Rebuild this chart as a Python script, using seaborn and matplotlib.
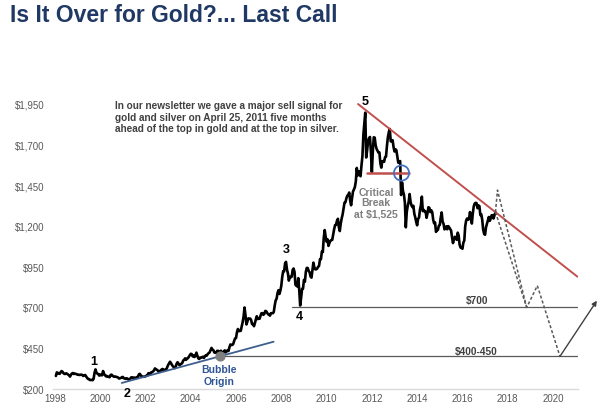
import numpy as np
import pandas as pd
import matplotlib
matplotlib.use("Agg")
import matplotlib.pyplot as plt
import seaborn as sns

# ---------------------------------------------------------------------------
# Data: gold price, USD/oz, two readings per month (mid-month, month-end)
# ---------------------------------------------------------------------------
gold_1998 = [280, 302, 296, 298, 293, 301, 310, 306, 297, 293, 292, 296, 293, 288, 284, 276, 288, 295, 298, 292, 294, 293, 291, 287]
gold_1999 = [288, 286, 287, 288, 286, 280, 283, 286, 277, 269, 262, 261, 255, 255, 256, 254, 263, 300, 320, 300, 294, 291, 282, 289]
gold_2000 = [285, 284, 310, 293, 286, 278, 280, 275, 275, 272, 286, 288, 282, 277, 275, 277, 274, 273, 270, 264, 266, 268, 272, 274]
gold_2001 = [266, 264, 262, 266, 263, 257, 261, 264, 272, 268, 270, 270, 268, 266, 273, 273, 290, 293, 283, 278, 276, 275, 276, 278]
gold_2002 = [282, 282, 296, 297, 294, 302, 303, 308, 314, 326, 322, 318, 314, 305, 310, 312, 319, 323, 317, 317, 319, 319, 333, 347]
gold_2003 = [357, 367, 359, 348, 340, 334, 328, 336, 355, 364, 356, 346, 351, 354, 360, 375, 379, 388, 379, 386, 389, 398, 407, 416]
gold_2004 = [414, 400, 405, 396, 406, 423, 404, 388, 384, 393, 392, 395, 398, 391, 400, 407, 405, 415, 420, 425, 439, 452, 442, 438]
gold_2005 = [424, 422, 423, 434, 434, 428, 429, 435, 422, 417, 430, 437, 424, 430, 438, 433, 456, 473, 470, 470, 476, 495, 510, 513]
gold_2006 = [549, 568, 555, 556, 557, 582, 610, 644, 700, 653, 596, 613, 633, 632, 632, 623, 598, 599, 585, 604, 627, 646, 629, 632]
gold_2007 = [631, 650, 665, 665, 655, 661, 679, 677, 667, 659, 655, 650, 665, 665, 665, 672, 712, 743, 754, 789, 806, 783, 803, 834]
gold_2008 = [889, 923, 922, 971, 980, 933, 909, 865, 888, 885, 889, 930, 939, 918, 839, 833, 829, 880, 806, 712, 760, 814, 816, 869]
gold_2009 = [858, 919, 943, 942, 924, 916, 890, 883, 928, 975, 946, 934, 934, 939, 949, 955, 996, 996, 1043, 1040, 1127, 1175, 1134, 1104]
gold_2010 = [1118, 1078, 1095, 1109, 1113, 1115, 1148, 1180, 1205, 1207, 1232, 1244, 1193, 1169, 1215, 1246, 1271, 1307, 1343, 1346, 1370, 1386, 1391, 1405]
gold_2011 = [1356, 1327, 1372, 1411, 1424, 1439, 1473, 1556, 1510, 1536, 1529, 1505, 1572, 1628, 1760, 1830, 1895, 1620, 1665, 1722, 1739, 1746, 1652, 1531]
gold_2012 = [1656, 1744, 1742, 1696, 1673, 1662, 1650, 1651, 1585, 1558, 1596, 1598, 1594, 1622, 1626, 1692, 1745, 1776, 1795, 1719, 1721, 1726, 1684, 1657]
gold_2013 = [1671, 1664, 1627, 1588, 1593, 1598, 1390, 1467, 1414, 1393, 1343, 1192, 1286, 1323, 1347, 1396, 1349, 1326, 1316, 1324, 1275, 1253, 1225, 1204]
gold_2014 = [1244, 1251, 1300, 1326, 1380, 1291, 1299, 1288, 1288, 1250, 1279, 1315, 1311, 1285, 1296, 1285, 1239, 1216, 1222, 1164, 1176, 1176, 1201, 1206]
gold_2015 = [1251, 1283, 1227, 1213, 1179, 1187, 1198, 1180, 1199, 1191, 1181, 1172, 1131, 1095, 1117, 1134, 1125, 1115, 1159, 1142, 1086, 1068, 1068, 1060]
gold_2016 = [1097, 1111, 1200, 1234, 1246, 1238, 1242, 1285, 1260, 1215, 1276, 1320, 1337, 1342, 1340, 1309, 1326, 1322, 1267, 1272, 1238, 1178, 1152, 1146]
gold_2017 = [1192, 1212, 1234, 1255, 1231, 1245, 1266, 1266, 1246, 1266, 1285]

year_ticks = list(range(1998, 2021, 2))
price_ticks = [200, 450, 700, 950, 1200, 1450, 1700, 1950]

# drawn-in lines (decimal year, price)
resistance_years = [2011.39, 2021.08]
resistance_prices = [1948, 889]
support_years = [2000.95, 2007.66]
support_prices = [237, 490]
break_years = [2011.8, 2013.63]
break_price = 1525
bubble_year, bubble_price = 2005.3, 400
level_700_start = 2008.48
level_400_start = 2005.3
level_end = 2021.08

# projected path
path_a_years = [2017.46, 2017.55, 2018.84]
path_a_prices = [1285, 1420, 700]
path_b_years = [2017.46, 2018.84, 2019.31, 2020.31]
path_b_prices = [1285, 700, 834, 400]
arrow_to = (2021.94, 742)

# ---------------------------------------------------------------------------
# Frame
# ---------------------------------------------------------------------------
gold = (gold_1998 + gold_1999 + gold_2000 + gold_2001 + gold_2002
        + gold_2003 + gold_2004 + gold_2005 + gold_2006 + gold_2007 + gold_2008
        + gold_2009 + gold_2010 + gold_2011 + gold_2012 + gold_2013 + gold_2014
        + gold_2015 + gold_2016 + gold_2017)
df = pd.DataFrame({"year": 1998 + (np.arange(len(gold)) + 1) / 24, "price": gold})

sns.set_style("white")
plt.rcParams["font.family"] = ["Liberation Sans", "DejaVu Sans"]

GREY = "#595959"
RED = "#C0504D"
BLUE = "#3E5F8E"

fig = plt.figure(figsize=(6, 4.1), dpi=100)
ax = fig.add_axes([0.0878, 0.0488, 0.8753, 0.7117])

sns.lineplot(data=df, x="year", y="price", ax=ax, color="black", linewidth=1.9)

# trend lines and levels
ax.plot(resistance_years, resistance_prices, color=RED, lw=1.4)
ax.plot(support_years, support_prices, color=BLUE, lw=1.3)
ax.plot(break_years, [break_price] * 2, color=RED, lw=1.8, zorder=3)
ax.scatter([2013.31], [break_price], s=120, facecolor="none",
           edgecolor="#4472C4", linewidth=1.3, zorder=4)
ax.plot([level_700_start, level_end], [700, 700], color=GREY, lw=0.9)
ax.plot([level_400_start, level_end], [400, 400], color=GREY, lw=0.9)
ax.scatter([bubble_year], [bubble_price], s=40, color="#7F7F7F", zorder=4)

ax.plot(path_a_years, path_a_prices, color=GREY, lw=1.1, ls=(0, (2, 1.4)))
ax.plot(path_b_years, path_b_prices, color=GREY, lw=1.1, ls=(0, (2, 1.4)))
ax.annotate("", xy=arrow_to, xytext=(path_b_years[-1], path_b_prices[-1]),
            arrowprops=dict(arrowstyle="-|>", color="#404040", lw=1.0,
                            mutation_scale=7, shrinkA=0, shrinkB=0),
            annotation_clip=False)

# ---------------------------------------------------------------------------
# Text
# ---------------------------------------------------------------------------
num_kw = dict(fontsize=9, fontweight="bold", ha="center", va="center",
              color="black", clip_on=False)
ax.text(1999.73, 374, "1", **num_kw)
ax.text(2001.17, 174, "2", **num_kw)
ax.text(2008.2, 1059, "3", **num_kw)
ax.text(2008.78, 650, "4", **num_kw)
ax.text(2011.7, 1965, "5", **num_kw)

ax.text(2005.26, 286, "Bubble\nOrigin", fontsize=7.5, fontweight="bold",
        color="#2F5597", ha="center", va="center", linespacing=1.15)
ax.text(2012.18, 1345, "Critical\nBreak\nat $1,525", fontsize=7.5,
        fontweight="bold", color="#7F7F7F", ha="center", va="center",
        linespacing=1.1)
ax.text(2016.63, 748, "$700", fontsize=7.3, fontweight="bold",
        color="#404040", ha="center", va="center")
ax.text(2016.6, 435, "$400-450", fontsize=7.3, fontweight="bold",
        color="#404040", ha="center", va="center")
ax.text(2000.65, 1870,
        "In our newsletter we gave a major sell signal for\n"
        "gold and silver on April 25, 2011 five months\n"
        "ahead of the top in gold and at the top in silver.",
        fontsize=7.2, fontweight="bold", color="#404040",
        ha="left", va="center", linespacing=1.2)

fig.text(0.0167, 0.963, "Is It Over for Gold?... Last Call", fontsize=16.5,
         fontweight="bold", color="#1F3864", ha="left", va="center")

# ---------------------------------------------------------------------------
# Axes
# ---------------------------------------------------------------------------
ax.set_xlim(1997.9, 2021.1)
ax.set_ylim(200, 1990)
ax.set_xticks(year_ticks)
ax.set_xticklabels([str(y) for y in year_ticks])
ax.set_yticks(price_ticks)
ax.set_yticklabels([f"${p:,}" for p in price_ticks])
ax.tick_params(axis="both", length=0, labelsize=7, colors="#595959")
ax.tick_params(axis="x", pad=3)
ax.tick_params(axis="y", pad=6)
ax.set_xlabel("")
ax.set_ylabel("")
for side in ["top", "right", "left"]:
    ax.spines[side].set_visible(False)
ax.spines["bottom"].set_color("#D9D9D9")
ax.spines["bottom"].set_linewidth(1.0)

fig.savefig("out.png", dpi=100)
